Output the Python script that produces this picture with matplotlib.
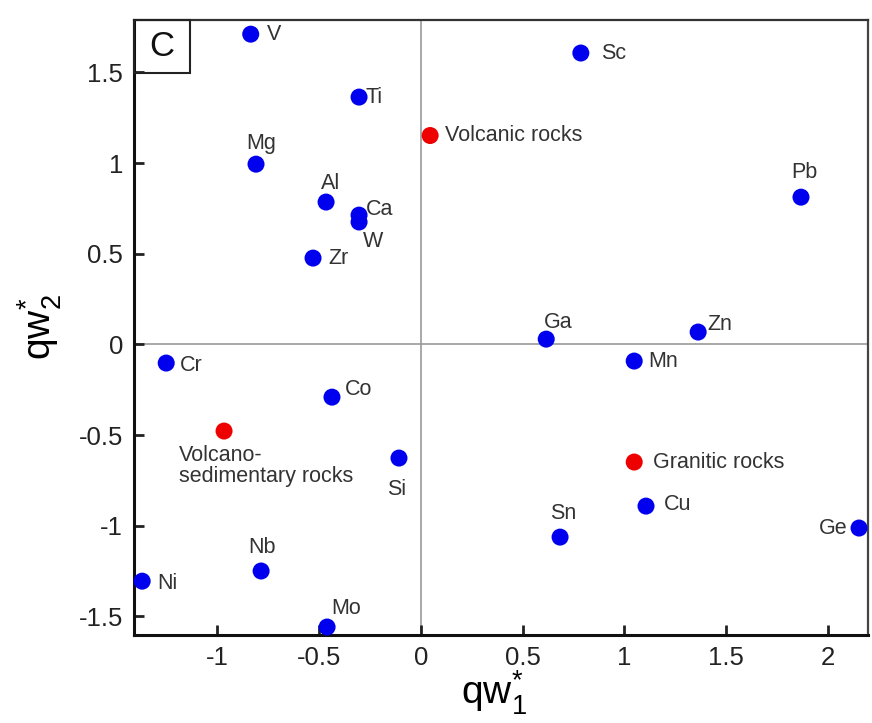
import matplotlib
matplotlib.use('Agg')
import matplotlib.pyplot as plt
from matplotlib.patches import Rectangle

plt.rcParams['font.family'] = ['Liberation Sans', 'DejaVu Sans']
plt.rcParams['mathtext.fontset'] = 'custom'
plt.rcParams['mathtext.rm'] = 'Liberation Sans'
plt.rcParams['mathtext.it'] = 'Liberation Sans'

# element loadings
elements = ['V', 'Sc', 'Ti', 'Mg', 'Pb', 'Al', 'Ca', 'W', 'Zr', 'Ga', 'Zn', 'Cr',
            'Mn', 'Co', 'Si', 'Cu', 'Ge', 'Sn', 'Nb', 'Ni', 'Mo']
el_x = [-0.835, 0.786, -0.303, -0.809, 1.867, -0.465, -0.303, -0.303, -0.529, 0.616, 1.362, -1.250,
        1.048, -0.436, -0.107, 1.106, 2.152, 0.684, -0.784, -1.368, -0.460]
el_y = [1.711, 1.607, 1.364, 0.994, 0.812, 0.785, 0.713, 0.675, 0.476, 0.029, 0.068, -0.103,
        -0.092, -0.291, -0.627, -0.892, -1.013, -1.063, -1.250, -1.306, -1.559]

# rock types
rocks = ['Volcanic rocks', 'Volcano-\nsedimentary rocks', 'Granitic rocks']
rock_x = [0.046, -0.966, 1.048]
rock_y = [1.152, -0.478, -0.649]

# label offsets in pixels (dx, dy, ha, va)
offs = {
    'V': (16, 0, 'left', 'center'), 'Sc': (20, 0, 'left', 'center'),
    'Ti': (6, 0, 'left', 'center'), 'Mg': (5, 21, 'center', 'center'),
    'Pb': (3, 25, 'center', 'center'), 'Al': (5, 19, 'center', 'center'),
    'Ca': (7, 6, 'left', 'center'), 'W': (14, -20, 'center', 'center'),
    'Zr': (15, 0, 'left', 'center'), 'Ga': (-2, 17, 'left', 'center'),
    'Zn': (9, 8, 'left', 'center'), 'Cr': (14, -2, 'left', 'center'),
    'Mn': (14, 0, 'left', 'center'), 'Co': (13, 8, 'left', 'center'),
    'Si': (-2, -31, 'center', 'center'), 'Cu': (18, 2, 'left', 'center'),
    'Ge': (-12, 0, 'right', 'center'), 'Sn': (3, 24, 'center', 'center'),
    'Nb': (1, 24, 'center', 'center'), 'Ni': (15, -2, 'left', 'center'),
    'Mo': (19, 19, 'center', 'center'),
    'Volcanic rocks': (15, 0, 'left', 'center'),
    'Volcano-\nsedimentary rocks': (-45, -14, 'left', 'top'),
    'Granitic rocks': (19, 0, 'left', 'center'),
}

fig = plt.figure(figsize=(8.72, 7.23), dpi=100)
ax = fig.add_axes([0.1537, 0.1217, 0.8417, 0.8506])

ax.axhline(0, color='#9a9a9a', lw=1.2, zorder=1)
ax.axvline(0, color='#9a9a9a', lw=1.2, zorder=1)

ax.scatter(el_x, el_y, s=150, color='#0000ee', edgecolors='none', zorder=3, clip_on=False)
ax.scatter(rock_x, rock_y, s=150, color='#ee0000', edgecolors='none', zorder=3, clip_on=False)

for name, x, y in list(zip(elements, el_x, el_y)) + list(zip(rocks, rock_x, rock_y)):
    dx, dy, ha, va = offs[name]
    ax.annotate(name, (x, y), xytext=(dx, dy), textcoords='offset pixels',
                ha=ha, va=va, fontsize=15.5, color='#333333', linespacing=1.0)

ax.set_xlim(-1.408, 2.196)
ax.set_ylim(-1.603, 1.789)
ax.set_xticks([-1, -0.5, 0, 0.5, 1, 1.5, 2])
ax.set_xticklabels(['-1', '-0.5', '0', '0.5', '1', '1.5', '2'])
ax.set_yticks([-1.5, -1, -0.5, 0, 0.5, 1, 1.5])
ax.set_yticklabels(['-1.5', '-1', '-0.5', '0', '0.5', '1', '1.5'])
ax.tick_params(direction='in', length=7, width=2, labelsize=18.5, colors='#222222', pad=8)

for side in ['left', 'bottom']:
    ax.spines[side].set_linewidth(2.2)
    ax.spines[side].set_color('#111111')
ax.spines['top'].set_linewidth(1.6)
ax.spines['top'].set_color('#333333')
ax.spines['right'].set_linewidth(1.6)
ax.spines['right'].set_color('#444444')

ax.set_xlabel(r'$\mathregular{qw^{*}_{1}}$', fontsize=28)
ax.set_ylabel(r'$\mathregular{qw^{*}_{2}}$', fontsize=28)
ax.xaxis.set_label_coords(0.49, -0.055)
ax.yaxis.set_label_coords(-0.095, 0.5)

# panel letter
ax.add_patch(Rectangle((0, 1 - 0.0862), 0.0763, 0.0862, transform=ax.transAxes,
                       fill=False, edgecolor='#222222', lw=1.5, zorder=4, clip_on=False))
ax.text(0.0382, 1 - 0.0431, 'C', transform=ax.transAxes, ha='center', va='center',
        fontsize=25, color='#111111', zorder=5)

plt.savefig('out.png', dpi=100)
plt.close()
